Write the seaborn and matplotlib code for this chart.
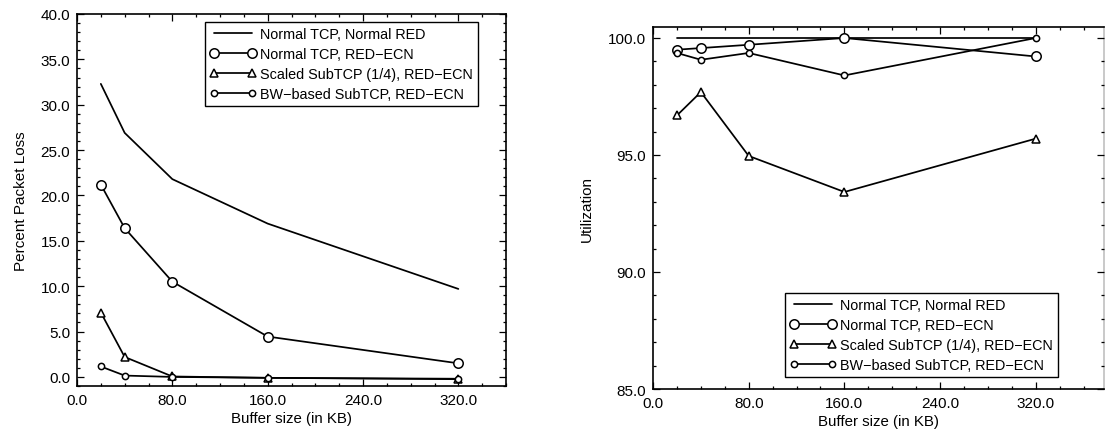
import matplotlib
matplotlib.use("Agg")
import matplotlib.pyplot as plt
from matplotlib.ticker import MultipleLocator, FormatStrFormatter
import seaborn as sns
import pandas as pd

# Buffer sizes (KB)
buffer_kb = [20, 40, 80, 160, 320]

series_names = [
    "Normal TCP, Normal RED",
    "Normal TCP, RED\u2212ECN",
    "Scaled SubTCP (1/4), RED\u2212ECN",
    "BW\u2212based SubTCP, RED\u2212ECN",
]

# Percent packet loss
loss_normal_red = [32.3, 26.9, 21.8, 16.9, 9.7]
loss_normal_ecn = [21.2, 16.4, 10.5, 4.45, 1.5]
loss_scaled_ecn = [7.1, 2.2, 0.05, -0.1, -0.25]
loss_bw_ecn = [1.15, 0.15, 0.0, -0.1, -0.2]

# Link utilization (%)
util_normal_red = [100.0, 100.0, 100.0, 100.0, 100.0]
util_normal_ecn = [99.5, 99.57, 99.71, 100.0, 99.21]
util_scaled_ecn = [96.69, 97.69, 94.96, 93.42, 95.70]
util_bw_ecn = [99.36, 99.07, 99.36, 98.40, 100.0]

x_ticks = [0.0, 80.0, 160.0, 240.0, 320.0]

sns.set_theme(style="ticks")
plt.rcParams["font.family"] = ["Liberation Sans", "DejaVu Sans"]
plt.rcParams["axes.edgecolor"] = "black"
plt.rcParams["text.color"] = "black"
plt.rcParams["axes.labelcolor"] = "black"
plt.rcParams["xtick.color"] = "black"
plt.rcParams["ytick.color"] = "black"

# marker style per series
styles = [
    dict(marker=None),
    dict(marker="o", markersize=6.8),
    dict(marker="^", markersize=5.2),
    dict(marker="o", markersize=4.5),
]

fig = plt.figure(figsize=(11.06, 4.35), dpi=100)
ax1 = fig.add_axes([77 / 1106, 1 - 387 / 435, 429 / 1106, 372 / 435])
ax2 = fig.add_axes([653 / 1106, 1 - 390 / 435, 451 / 1106, 362 / 435])


def draw(ax, values):
    for name, vals, st in zip(series_names, values, styles):
        df = pd.DataFrame({"buffer": buffer_kb, "value": vals})
        sns.lineplot(
            data=df, x="buffer", y="value", ax=ax, color="black",
            linewidth=1.25, markerfacecolor="white", markeredgecolor="black",
            markeredgewidth=1.1, label=name, **st,
        )


def style_axes(ax):
    ax.xaxis.set_major_locator(MultipleLocator(80))
    ax.xaxis.set_minor_locator(MultipleLocator(20))
    ax.yaxis.set_major_locator(MultipleLocator(5))
    ax.yaxis.set_minor_locator(MultipleLocator(1))
    ax.xaxis.set_major_formatter(FormatStrFormatter("%.1f"))
    ax.yaxis.set_major_formatter(FormatStrFormatter("%.1f"))
    ax.tick_params(which="both", direction="in", top=True, right=True,
                   labelsize=11, width=0.9, pad=5)
    ax.tick_params(which="major", length=5)
    ax.tick_params(which="minor", length=2.5)
    for sp in ax.spines.values():
        sp.set_linewidth(1.2)
        sp.set_visible(True)
    ax.set_xlabel("Buffer size (in KB)", fontsize=10.8, labelpad=3)


def add_legend(ax, **kw):
    leg = ax.legend(borderaxespad=0, fontsize=10.4, handlelength=3.2,
                    numpoints=2, frameon=True, fancybox=False,
                    labelspacing=0.42, borderpad=0.35, handletextpad=0.3,
                    **kw)
    leg.get_frame().set_edgecolor("black")
    leg.get_frame().set_linewidth(1.0)
    leg.get_frame().set_alpha(1)
    return leg


draw(ax1, [loss_normal_red, loss_normal_ecn, loss_scaled_ecn, loss_bw_ecn])
style_axes(ax1)
ax1.set_xlim(0, 360)
ax1.set_ylim(-1, 40)
ax1.set_ylabel("Percent Packet Loss", fontsize=11, labelpad=9)
add_legend(ax1, loc="upper right", bbox_to_anchor=(0.935, 0.978))

draw(ax2, [util_normal_red, util_normal_ecn, util_scaled_ecn, util_bw_ecn])
style_axes(ax2)
ax2.set_xlim(0, 377)
ax2.set_ylim(85, 100.47)
ax2.set_ylabel("Utilization", fontsize=11, labelpad=10)
ax2.spines["right"].set_alpha(0.25)
add_legend(ax2, loc="lower right", bbox_to_anchor=(0.898, 0.033))

for ax in (ax1, ax2):
    ax.set_xticks(x_ticks)

fig.savefig("out.png", dpi=100, facecolor="white")
